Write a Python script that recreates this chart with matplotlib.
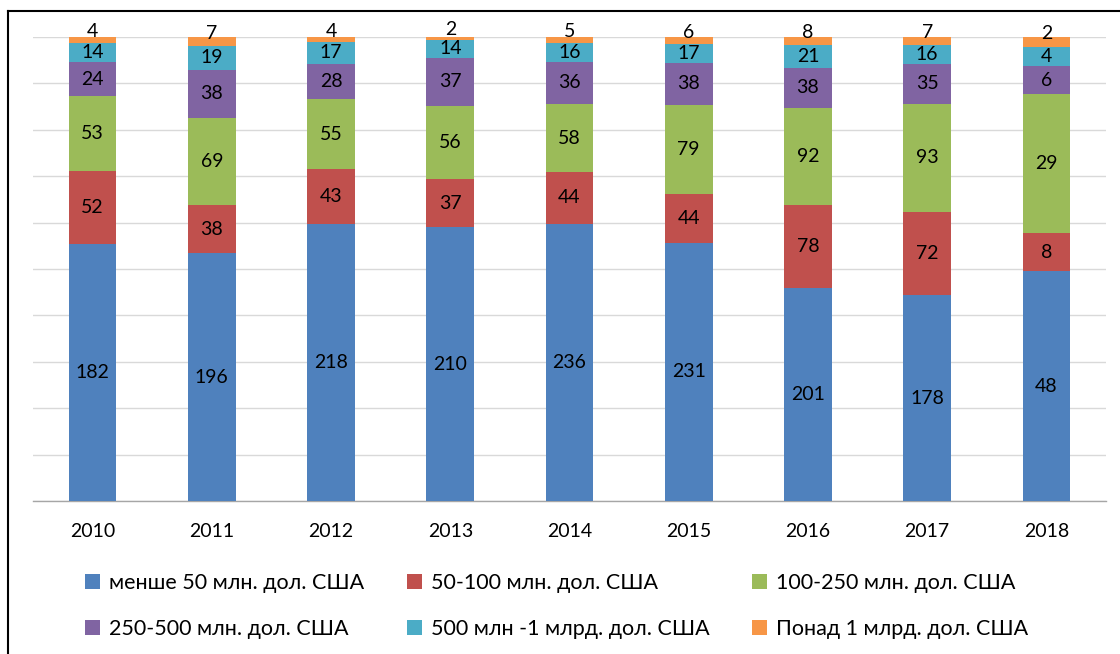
import matplotlib
matplotlib.use("Agg")
import matplotlib.pyplot as plt
from matplotlib.lines import Line2D
import numpy as np

plt.rcParams['font.family'] = ['Lato', 'DejaVu Sans']

years = ['2010', '2011', '2012', '2013', '2014', '2015', '2016', '2017', '2018']
series_names = ['менше 50 млн. дол. США', '50-100 млн. дол. США', '100-250 млн. дол. США',
                '250-500 млн. дол. США', '500 млн -1 млрд. дол. США', 'Понад 1 млрд. дол. США']
lt50 = [182, 196, 218, 210, 236, 231, 201, 178, 48]
m50_100 = [52, 38, 43, 37, 44, 44, 78, 72, 8]
m100_250 = [53, 69, 55, 56, 58, 79, 92, 93, 29]
m250_500 = [24, 38, 28, 37, 36, 38, 38, 35, 6]
m500_1b = [14, 19, 17, 14, 16, 17, 21, 16, 4]
gt1b = [4, 7, 4, 2, 5, 6, 8, 7, 2]
colors = ['#4F81BD', '#C0504D', '#9BBB59', '#8064A2', '#4BACC6', '#F79646']

data = np.array([lt50, m50_100, m100_250, m250_500, m500_1b, gt1b], dtype=float)
totals = data.sum(axis=0)
pct = data / totals * 100

fig = plt.figure(figsize=(11.2, 6.54), dpi=100)
ax = fig.add_axes([33/1120, 1 - 501/654, (1106-33)/1120, (501-37)/654])

x = np.arange(len(years))
bottom = np.zeros(len(years))
handles = []
for i in range(len(series_names)):
    h = ax.bar(x, pct[i], 0.4, bottom=bottom, color=colors[i], label=series_names[i],
               edgecolor='none', zorder=3)
    handles.append(h)
    for j in range(len(years)):
        yc = bottom[j] + pct[i][j] / 2
        dy = 0
        if i == len(series_names) - 1:
            dy = 6
        ax.annotate(str(int(data[i][j])), (x[j], yc), xytext=(0, dy), textcoords='offset points',
                    ha='center', va='center', fontsize=14, color='black', zorder=4)
    bottom += pct[i]

ax.set_ylim(0, 100)
ax.set_xlim(-0.5, len(years) - 0.5)
ax.set_yticks(np.arange(0, 101, 10))
ax.set_yticklabels([])
ax.tick_params(axis='y', length=0)
ax.tick_params(axis='x', length=0, labelsize=14, pad=16)
ax.set_xticks(x)
ax.set_xticklabels(years)
ax.grid(axis='y', color='#D9D9D9', linewidth=1, zorder=0)
for s in ['left', 'right', 'top']:
    ax.spines[s].set_visible(False)
ax.spines['bottom'].set_color('#A6A6A6')
ax.spines['bottom'].set_linewidth(1)

order = [0, 3, 1, 4, 2, 5]
fig.legend([handles[k] for k in order], [series_names[k] for k in order],
           loc='center', bbox_to_anchor=(0.497, 1 - 606/654), ncol=3, frameon=False,
           fontsize=15.5, handlelength=0.7, handleheight=0.7, handletextpad=0.4,
           columnspacing=2.0, labelspacing=1.2)

# outer frame (left and top edges)
fig.add_artist(Line2D([8/1120, 8/1120], [0, 1 - 11/654], transform=fig.transFigure,
                      color='black', linewidth=1.5))
fig.add_artist(Line2D([8/1120, 1], [1 - 11/654, 1 - 11/654], transform=fig.transFigure,
                      color='black', linewidth=1.5))

fig.savefig('out.png', dpi=100)
